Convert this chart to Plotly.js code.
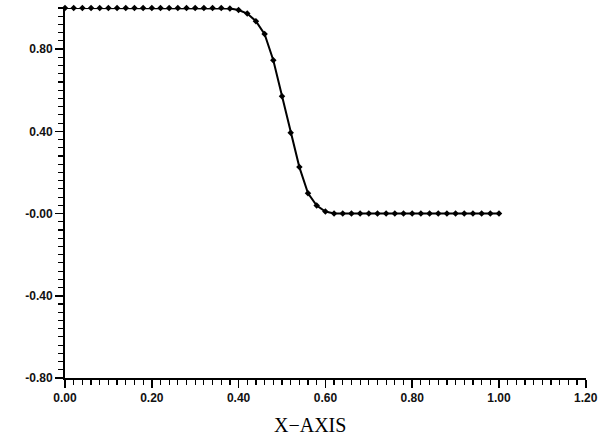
<!DOCTYPE html>
<html>
<head>
<meta charset="utf-8">
<script src="https://cdn.plot.ly/plotly-3.0.1.min.js"></script>
<style>html,body{margin:0;padding:0;background:#fff;}#chart{width:601px;height:440px;}</style>
</head>
<body>
<div id="chart"></div>
<script>
const xValues = [0.00,0.02,0.04,0.06,0.08,0.10,0.12,0.14,0.16,0.18,
                 0.20,0.22,0.24,0.26,0.28,0.30,0.32,0.34,0.36,0.38,
                 0.40,0.42,0.44,0.46,0.48,0.50,0.52,0.54,0.56,0.58,
                 0.60,0.62,0.64,0.66,0.68,0.70,0.72,0.74,0.76,0.78,
                 0.80,0.82,0.84,0.86,0.88,0.90,0.92,0.94,0.96,0.98,1.00];
const yValues = [1.0,1.0,1.0,1.0,1.0,1.0,1.0,1.0,1.0,1.0,
                 1.0,1.0,1.0,1.0,1.0,1.0,1.0,1.0,1.0,0.998,
                 0.99,0.973,0.936,0.873,0.746,0.571,0.393,0.226,0.099,0.039,
                 0.01,0.0,0.0,0.0,0.0,0.0,0.0,0.0,0.0,0.0,
                 0.0,0.0,0.0,0.0,0.0,0.0,0.0,0.0,0.0,0.0,0.0];
const xTickVals = [0, 0.2, 0.4, 0.6, 0.8, 1.0, 1.2];
const xTickText = ["0.00", "0.20", "0.40", "0.60", "0.80", "1.00", "1.20"];
const yTickVals = [-0.8, -0.4, 0, 0.4, 0.8];
const yTickText = ["-0.80", "-0.40", "-0.00", "0.40", "0.80"];
const xTitle = "X\u2212AXIS";

const tickFont = {family: "Liberation Sans, Arial, sans-serif", size: 12, color: "#111", weight: "bold"};

const trace = {
  x: xValues, y: yValues, type: "scatter", mode: "lines+markers",
  line: {color: "#000", width: 2},
  marker: {symbol: "diamond", size: 5, color: "#000"},
  hoverinfo: "none", showlegend: false, cliponaxis: false
};

const layout = {
  width: 601, height: 440,
  margin: {l: 65, r: 15, t: 8, b: 62},
  paper_bgcolor: "#fff", plot_bgcolor: "#fff",
  xaxis: {
    range: [0, 1.2005], showgrid: false, zeroline: false, automargin: false,
    showline: true, linecolor: "#000", linewidth: 2,
    tickmode: "array", tickvals: xTickVals, ticktext: xTickText,
    ticks: "outside", ticklen: 8, tickwidth: 1.5, tickcolor: "#000",
    tickfont: tickFont, ticklabeloverflow: "allow",
    minor: {dtick: 0.02, tick0: 0, ticks: "outside", ticklen: 5, tickwidth: 1.2, tickcolor: "#000", showgrid: false}
  },
  yaxis: {
    range: [-0.8, 1.0], showgrid: false, zeroline: false, automargin: false,
    showline: true, linecolor: "#000", linewidth: 2,
    tickmode: "array", tickvals: yTickVals, ticktext: yTickText,
    ticks: "outside", ticklen: 8, tickwidth: 1.5, tickcolor: "#000",
    tickfont: tickFont, ticklabeloverflow: "allow",
    minor: {dtick: 0.04, tick0: 0, ticks: "outside", ticklen: 5, tickwidth: 1.2, tickcolor: "#000", showgrid: false}
  },
  annotations: [{
    text: xTitle, xref: "paper", yref: "paper", x: 0.47, y: 0,
    yshift: -47, xanchor: "center", yanchor: "middle", showarrow: false,
    font: {family: "Liberation Serif, Times New Roman, serif", size: 20, color: "#000"}
  }]
};

Plotly.newPlot("chart", [trace], layout, {staticPlot: true, displayModeBar: false});
</script>
</body>
</html>
